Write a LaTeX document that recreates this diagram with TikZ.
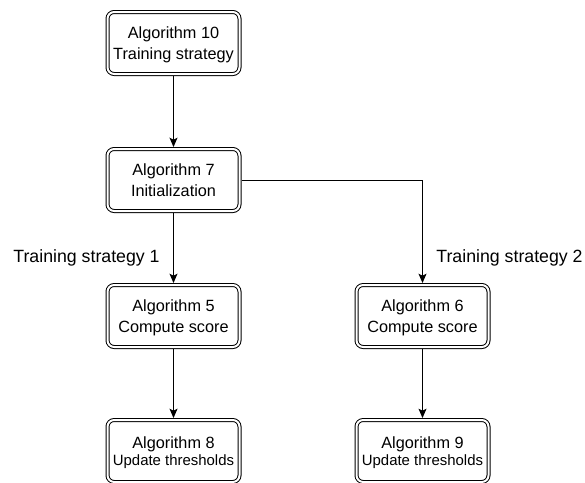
\documentclass[tikz,border=0pt]{standalone}
\usepackage{fontspec}
\setmainfont{Liberation Sans}
\usetikzlibrary{arrows.meta}

\tikzset{
  algbox/.style={draw=black, line width=0.75pt, double=white, double distance=1.5pt,
    rounded corners=5pt, minimum width=99pt, minimum height=46.5pt, inner sep=0pt,
    outer sep=1.5pt, align=center, text depth=-2pt,
    font=\fontsize{12.2}{15.3}\selectfont},
  smallline/.style={font=\fontsize{12.2}{13}\selectfont},
  flow/.style={draw=black, line width=0.75pt, -{Stealth[length=7pt,width=6pt,inset=1.5pt]}},
  branchlabel/.style={font=\fontsize{13.3}{16}\selectfont, inner sep=0pt}
}

\begin{document}
\begin{tikzpicture}[x=0.75pt, y=-0.75pt]
  \useasboundingbox (0,0) rectangle (585,482);

  % algorithm boxes
  \node[algbox] (a10) at (173.5,43)  {Algorithm 10\\Training strategy};
  \node[algbox] (a7)  at (173.5,180) {Algorithm 7\\Initialization};
  \node[algbox] (a5)  at (173.5,316) {Algorithm 5\\Compute score};
  \node[algbox] (a6)  at (422.5,316) {Algorithm 6\\Compute score};
  \node[algbox, smallline] (a8) at (173.5,451)
    {Algorithm 8\\{\fontsize{11.2}{13}\selectfont Update thresholds}};
  \node[algbox, smallline] (a9) at (422.5,451)
    {Algorithm 9\\{\fontsize{11.2}{13}\selectfont Update thresholds}};

  % branch labels
  \node[branchlabel] (ts1) at (86.5,258) {Training strategy 1};
  \node[branchlabel] (ts2) at (509.5,258) {Training strategy 2};

  % connectors
  \draw[flow] (a10) -- (a7);
  \draw[flow] (a7) -- (a5);
  \draw[flow] (a7.east) -| (a6.north);
  \draw[flow] (a5) -- (a8);
  \draw[flow] (a6) -- (a9);
\end{tikzpicture}
\end{document}
